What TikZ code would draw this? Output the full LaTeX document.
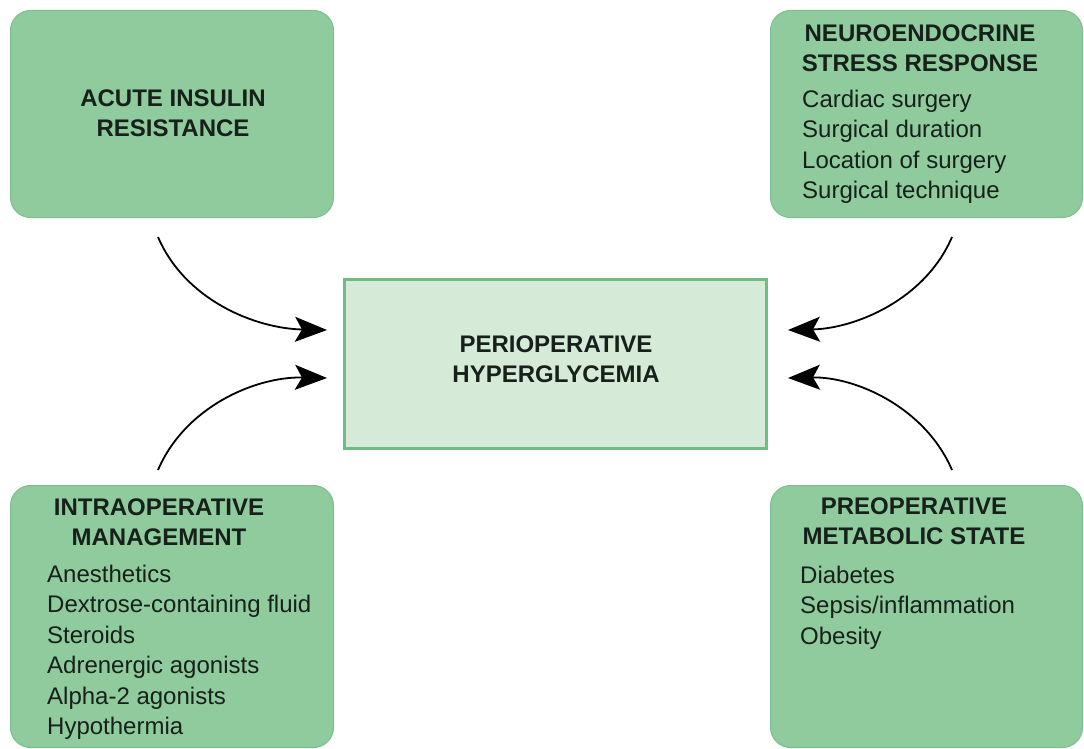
\documentclass[tikz,border=0pt]{standalone}
\usepackage{fontspec}
\setmainfont{Liberation Sans}
\usetikzlibrary{arrows.meta,calc}
\definecolor{boxfill}{HTML}{8FCB9C}
\definecolor{boxline}{HTML}{7CBF8E}
\definecolor{cfill}{HTML}{D6EBD7}
\definecolor{cline}{HTML}{72BC84}
\definecolor{txt}{HTML}{17201B}
\begin{document}
\begin{tikzpicture}[x=1pt,y=-1pt,
  greenbox/.style={draw=boxline,fill=boxfill,line width=1pt,rounded corners=20pt,anchor=north west,inner sep=0pt},
  centerbox/.style={draw=cline,fill=cfill,line width=3pt,anchor=north west,inner sep=0pt},
  headtxt/.style={font=\fontsize{24}{30}\selectfont\bfseries,text=txt,align=center,anchor=north,inner sep=0pt},
  bodytxt/.style={font=\fontsize{24}{30.5}\selectfont,text=txt,align=left,anchor=north west,inner sep=0pt},
  arr/.style={draw=black,line width=1.8pt,-{Stealth[length=32pt,width=25pt,inset=7pt]}}
]
\useasboundingbox (0,0) rectangle (1084,749);
% boxes
\node[greenbox,minimum width=323pt,minimum height=207pt] (tl) at (10,10) {};
\node[greenbox,minimum width=312pt,minimum height=207pt] (tr) at (770,10) {};
\node[greenbox,minimum width=323pt,minimum height=262pt] (bl) at (10,485) {};
\node[greenbox,minimum width=312pt,minimum height=262pt] (br) at (770,485) {};
\node[centerbox,minimum width=422pt,minimum height=169pt] (c) at (343,278) {};
% texts
\node[headtxt] (tlh) at (173,85.6) {\strut ACUTE INSULIN\\RESISTANCE};
\node[headtxt] (trh) at (920,20.6) {\strut NEUROENDOCRINE\\STRESS RESPONSE};
\node[bodytxt] (trb) at (802,85.6) {\strut Cardiac surgery\\Surgical duration\\Location of surgery\\Surgical technique};
\node[headtxt] (ch) at (556,331.6) {\strut PERIOPERATIVE\\HYPERGLYCEMIA};
\node[headtxt] (blh) at (159,494.6) {\strut INTRAOPERATIVE\\MANAGEMENT};
\node[bodytxt] (blb) at (47,560.6) {\strut Anesthetics\\Dextrose-containing fluid\\Steroids\\Adrenergic agonists\\Alpha-2 agonists\\Hypothermia};
\node[headtxt] (brh) at (914,493.6) {\strut PREOPERATIVE\\METABOLIC STATE};
\node[bodytxt] (brb) at (800,561.6) {\strut Diabetes\\Sepsis/inflammation\\Obesity};
% arrow start points
\coordinate (s1) at (158,237);
\coordinate (s2) at (158,470);
\coordinate (s3) at (952,237);
\coordinate (s4) at (952,470);
\draw[arr] (s1) .. controls (185,300) and (255,328.5) .. ($(c.west)+(-16,-34)$);
\draw[arr] (s2) .. controls (185,407) and (255,376.5) .. ($(c.west)+(-16,14)$);
\draw[arr] (s3) .. controls (925,300) and (855,328.5) .. ($(c.east)+(20,-34)$);
\draw[arr] (s4) .. controls (925,407) and (855,376.5) .. ($(c.east)+(20,14)$);
\end{tikzpicture}
\end{document}
